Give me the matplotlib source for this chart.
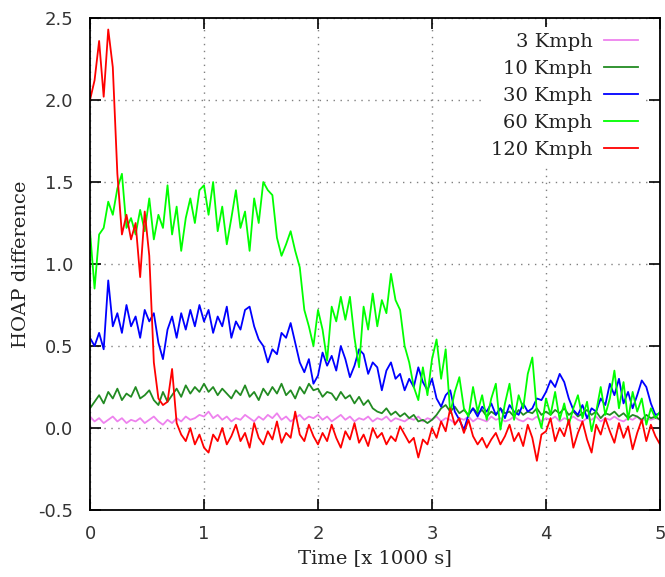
import numpy as np
import matplotlib
matplotlib.use("Agg")
import matplotlib.pyplot as plt

# ---- data (time in thousands of seconds, sampled every 0.04) ----
n_pts = 126
time_k = np.linspace(0.0, 5.0, n_pts)

labels = ["3 Kmph", "10 Kmph", "30 Kmph", "60 Kmph", "120 Kmph"]
colors = ["#ee82ee", "#228b22", "#0000ff", "#00ff00", "#ff0000"]

kmph3 = [0.07, 0.04, 0.06, 0.03, 0.05, 0.07, 0.04, 0.06, 0.03, 0.05, 0.04, 0.06, 0.03, 0.05, 0.07, 0.04, 0.02, 0.05, 0.03, 0.06, 0.04, 0.07, 0.05, 0.06, 0.08,
         0.07, 0.10, 0.06, 0.08, 0.05, 0.07, 0.04, 0.06, 0.05, 0.08, 0.06, 0.04, 0.07, 0.05, 0.08, 0.06, 0.09, 0.05, 0.07, 0.04, 0.06, 0.08, 0.05, 0.07, 0.06,
         0.08, 0.05, 0.07, 0.04, 0.06, 0.08, 0.05, 0.07, 0.04, 0.06, 0.05, 0.07, 0.04, 0.06, 0.05, 0.07, 0.04, 0.06, 0.05, 0.04, 0.06, 0.05, 0.07, 0.04, 0.06,
         0.05, 0.07, 0.04, 0.06, 0.05, 0.03, 0.06, 0.05, 0.07, 0.04, 0.06, 0.05, 0.04, 0.07, 0.05, 0.06, 0.04, 0.05, 0.07, 0.05, 0.04, 0.06, 0.05, 0.07, 0.04,
         0.06, 0.05, 0.07, 0.04, 0.06, 0.05, 0.07, 0.05, 0.04, 0.06, 0.05, 0.07, 0.04, 0.06, 0.05, 0.07, 0.05, 0.04, 0.06, 0.05, 0.07, 0.04, 0.06, 0.05, 0.06, 0.05]

kmph10 = [0.12, 0.16, 0.20, 0.15, 0.22, 0.18, 0.24, 0.17, 0.21, 0.19, 0.25, 0.18, 0.20, 0.23, 0.17, 0.14, 0.22, 0.16, 0.20, 0.24, 0.19, 0.26, 0.21, 0.25, 0.22,
          0.27, 0.22, 0.25, 0.20, 0.24, 0.21, 0.18, 0.23, 0.20, 0.26, 0.19, 0.22, 0.17, 0.24, 0.20, 0.25, 0.21, 0.27, 0.20, 0.23, 0.18, 0.25, 0.21, 0.27, 0.23,
          0.24, 0.19, 0.22, 0.21, 0.17, 0.22, 0.18, 0.20, 0.15, 0.19, 0.14, 0.17, 0.12, 0.10, 0.09, 0.12, 0.08, 0.10, 0.07, 0.09, 0.06, 0.08, 0.04, 0.05, 0.03,
          0.05, 0.08, 0.12, 0.14, 0.10, 0.13, 0.09, 0.11, 0.08, 0.12, 0.09, 0.11, 0.07, 0.10, 0.08, 0.12, 0.09, 0.10, 0.07, 0.11, 0.08, 0.10, 0.09, 0.12, 0.08,
          0.10, 0.08, 0.11, 0.09, 0.12, 0.08, 0.10, 0.07, 0.09, 0.11, 0.08, 0.10, 0.06, 0.09, 0.08, 0.10, 0.07, 0.09, 0.06, 0.08, 0.07, 0.05, 0.08, 0.06, 0.07, 0.05]

kmph30 = [0.55, 0.50, 0.58, 0.48, 0.90, 0.62, 0.70, 0.58, 0.75, 0.62, 0.68, 0.55, 0.72, 0.65, 0.70, 0.52, 0.42, 0.60, 0.68, 0.55, 0.70, 0.60, 0.72, 0.62, 0.75,
          0.65, 0.72, 0.58, 0.68, 0.62, 0.74, 0.55, 0.65, 0.60, 0.72, 0.74, 0.62, 0.54, 0.50, 0.40, 0.48, 0.45, 0.58, 0.55, 0.64, 0.52, 0.40, 0.34, 0.42, 0.27,
          0.32, 0.46, 0.38, 0.44, 0.35, 0.50, 0.42, 0.31, 0.38, 0.48, 0.45, 0.33, 0.40, 0.37, 0.23, 0.35, 0.40, 0.30, 0.33, 0.23, 0.30, 0.25, 0.37, 0.28, 0.23,
          0.30, 0.18, 0.13, 0.20, 0.23, 0.10, 0.05, -0.01, 0.08, 0.12, 0.07, 0.13, 0.10, 0.15, 0.08, 0.12, 0.06, 0.14, 0.10, 0.08, 0.15, 0.10, 0.12, 0.18, 0.17,
          0.22, 0.29, 0.25, 0.33, 0.28, 0.18, 0.11, 0.08, 0.14, 0.06, 0.12, 0.10, 0.18, 0.14, 0.27, 0.20, 0.30, 0.15, 0.22, 0.12, 0.20, 0.29, 0.25, 0.15, 0.08, 0.09]

kmph60 = [1.20, 0.85, 1.18, 1.22, 1.38, 1.30, 1.46, 1.55, 1.22, 1.28, 1.18, 1.33, 1.20, 1.40, 1.15, 1.30, 1.22, 1.48, 1.18, 1.35, 1.08, 1.28, 1.40, 1.25, 1.45,
          1.48, 1.30, 1.50, 1.20, 1.35, 1.12, 1.28, 1.45, 1.22, 1.32, 1.08, 1.40, 1.25, 1.50, 1.45, 1.42, 1.16, 1.05, 1.12, 1.20, 1.08, 0.98, 0.72, 0.62, 0.50,
          0.72, 0.60, 0.41, 0.74, 0.65, 0.80, 0.66, 0.80, 0.55, 0.37, 0.74, 0.60, 0.82, 0.62, 0.78, 0.70, 0.94, 0.78, 0.72, 0.50, 0.40, 0.25, 0.17, 0.37, 0.20,
          0.42, 0.54, 0.30, 0.48, 0.09, 0.22, 0.31, 0.12, 0.07, 0.25, 0.10, 0.20, 0.05, 0.18, 0.27, -0.01, 0.15, 0.27, 0.05, 0.20, 0.12, 0.33, 0.43, 0.10, 0.00,
          0.18, 0.08, 0.22, 0.05, 0.15, 0.02, 0.12, 0.20, 0.06, 0.16, -0.02, 0.10, 0.25, 0.08, 0.18, 0.35, 0.12, 0.28, 0.05, 0.22, 0.10, 0.18, 0.02, 0.12, 0.06, 0.10]

kmph120 = [2.00, 2.12, 2.36, 2.02, 2.43, 2.20, 1.55, 1.18, 1.30, 1.15, 1.25, 0.92, 1.32, 1.05, 0.40, 0.18, 0.14, 0.16, 0.36, 0.03, -0.04, -0.08, 0.00, -0.10, -0.04,
           -0.12, -0.15, -0.04, -0.08, 0.00, -0.10, -0.05, 0.02, -0.08, -0.03, -0.12, 0.03, -0.06, -0.10, -0.02, -0.07, 0.04, -0.09, -0.03, -0.06, 0.10, -0.04, -0.08, 0.02, -0.05,
           -0.10, -0.03, -0.08, 0.02, -0.06, -0.12, -0.02, -0.07, 0.03, -0.09, -0.04, -0.11, 0.00, -0.06, -0.03, -0.10, -0.05, -0.08, 0.01, -0.04, -0.09, -0.06, -0.18, -0.07, -0.10,
           0.00, -0.06, 0.04, -0.02, 0.12, 0.02, 0.06, -0.03, 0.05, -0.05, -0.10, -0.06, -0.12, -0.07, -0.03, -0.10, -0.05, 0.02, -0.08, -0.03, -0.11, 0.02, -0.06, -0.20, -0.04,
           -0.02, 0.06, -0.08, 0.00, -0.05, 0.05, -0.12, -0.03, 0.04, -0.07, -0.15, 0.02, -0.04, 0.06, -0.02, -0.09, 0.03, -0.06, 0.01, -0.13, -0.03, 0.05, -0.08, 0.02, -0.05, -0.10]

series = [kmph3, kmph10, kmph30, kmph60, kmph120]

x_ticks = [0, 1, 2, 3, 4, 5]
y_ticks = [-0.5, 0.0, 0.5, 1.0, 1.5, 2.0, 2.5]

# ---- figure ----
fig = plt.figure(figsize=(6.65, 5.77), dpi=100)
ax = fig.add_axes([90 / 665, 67 / 577, 570 / 665, 492 / 577])

for vals, lab, col in zip(series, labels, colors):
    ax.plot(time_k, vals, color=col, lw=1.3, label=lab)

ax.set_xlim(0, 5)
ax.set_ylim(-0.5, 2.5)
ax.set_xticks(x_ticks)
ax.set_xticklabels([str(t) for t in x_ticks])
ax.set_yticks(y_ticks)
ax.set_yticklabels([f"{t:.1f}" for t in y_ticks])

ax.grid(True, color="#808080", linestyle=(0, (1, 4)), linewidth=1.0)
ax.tick_params(direction="in", length=8, width=1.2, top=True, right=True,
               labelsize=13, labelcolor="#333333")
ax.tick_params(axis="y", pad=12)
ax.tick_params(axis="x", pad=11)
for sp in ax.spines.values():
    sp.set_linewidth(1.3)

ax.set_xlabel("Time [x 1000 s]", family="DejaVu Serif", fontsize=14, color="#222222", labelpad=4)
ax.set_ylabel("HOAP difference", family="DejaVu Serif", fontsize=14, color="#222222", labelpad=6)

leg = ax.legend(loc="upper right", bbox_to_anchor=(0.972, 0.981), markerfirst=False,
                frameon=True, fancybox=False,
                prop={"family": "DejaVu Serif", "size": 14}, handlelength=1.75,
                handletextpad=0.6, labelspacing=0.46, borderaxespad=0.0,
                borderpad=0.3)
leg.get_frame().set_edgecolor("none")
leg.get_frame().set_facecolor("white")
leg.get_frame().set_alpha(1.0)
for t in leg.get_texts():
    t.set_ha("right")
    t.set_color("#222222")
leg._legend_box.align = "right"

fig.savefig("out.png", dpi=100)
